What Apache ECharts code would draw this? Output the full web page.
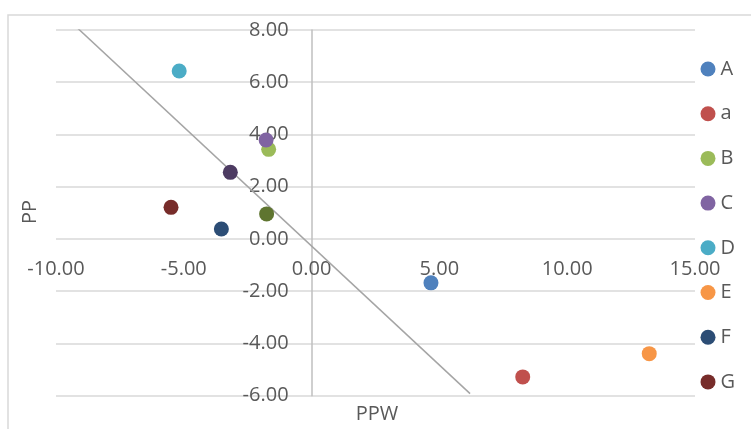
<!DOCTYPE html>
<html><head><meta charset="utf-8">
<script src="https://cdn.jsdelivr.net/npm/echarts@6/dist/echarts.min.js"></script>
<style>html,body{margin:0;padding:0;background:#fff}#c{width:751px;height:429px}</style>
</head><body><div id="c"></div>
<script>
const seriesNames = ['A','a','B','C','D','E','F','G','H','I'];
const legendNames = ['A','a','B','C','D','E','F','G'];
const xValues = [4.67, 8.26, -1.68, -1.78, -5.18, 13.21, -3.53, -5.50, -1.76, -3.18];
const yValues = [-1.68, -5.28, 3.43, 3.79, 6.43, -4.39, 0.38, 1.21, 0.96, 2.55];
const colors = ['#4F81BD','#C0504D','#9BBB59','#8064A2','#4BACC6','#F79646','#2C4D75','#772C2A','#5F7530','#4D3B62'];
const lineX = [-9.22, 6.20];
const lineY = [8.13, -5.92];
const xTicks = {min:-10, max:15, interval:5};
const yTicks = {min:-6, max:8, interval:2};
const xName = 'PPW', yName = 'PP';

const font = 'Open Sans';
const txt = '#595959';
const G = {left:56, right:56, top:30, bottom:33.3};
const W = 751, H = 429;
const gw = W - G.left - G.right, gh = H - G.top - G.bottom;
// axis crossing offsets (axes cross at zero, derived from axis ranges)
const yAxisOffset = -gw * (0 - xTicks.min) / (xTicks.max - xTicks.min);
const xAxisOffset = -gh * (0 - yTicks.min) / (yTicks.max - yTicks.min);

const series = seriesNames.map((n,i)=>({
  name:n, type:'scatter', symbol:'circle', symbolSize:15,
  itemStyle:{color:colors[i], opacity:1},
  data:[[xValues[i], yValues[i]]], z:3
}));
series.push({
  name:'trend', type:'line', symbol:'none', silent:true,
  lineStyle:{color:'#A5A5A5', width:1.5},
  data: lineX.map((x,i)=>[x, lineY[i]]), z:2
});
const chart = echarts.init(document.getElementById('c'), null, {renderer:'canvas'});
chart.setOption({
  animation:false,
  color: colors,
  grid:{left:G.left, right:G.right, top:G.top, bottom:G.bottom, containLabel:false},
  xAxis:{type:'value', min:xTicks.min, max:xTicks.max, interval:xTicks.interval,
    position:'bottom', offset:xAxisOffset,
    axisLine:{show:false, onZero:false},
    axisTick:{show:false}, splitLine:{show:false},
    axisLabel:{formatter:v=>v.toFixed(2), color:txt, fontFamily:font, fontSize:20, margin:20}},
  yAxis:{type:'value', min:yTicks.min, max:yTicks.max, interval:yTicks.interval,
    position:'left', offset:yAxisOffset,
    axisLine:{show:true, onZero:false, lineStyle:{color:'#BFBFBF', width:1.5}},
    axisTick:{show:false},
    splitLine:{show:true, lineStyle:{color:'#D9D9D9', width:1.5}},
    axisLabel:{formatter:v=>v.toFixed(2), color:txt, fontFamily:font, fontSize:20, margin:23}},
  legend:{data:legendNames, orient:'vertical', left:700.5, top:59, padding:0,
    itemWidth:15, itemHeight:15, itemGap:24.7, icon:'circle',
    textStyle:{color:txt, fontFamily:font, fontSize:20, padding:[0,0,0,0]}},
  graphic:[
    {type:'rect', shape:{x:8, y:15, width:800, height:500}, style:{fill:'none', stroke:'#D9D9D9', lineWidth:1.5}, z:-1},
    {type:'text', x:30, y:212, rotation:Math.PI/2, style:{text:yName, fill:txt, font:'20px "Open Sans"', textAlign:'center', textVerticalAlign:'middle'}},
    {type:'text', x:377, y:414, style:{text:xName, fill:txt, font:'20px "Open Sans"', textAlign:'center', textVerticalAlign:'middle'}}
  ],
  series: series
});
</script></body></html>
